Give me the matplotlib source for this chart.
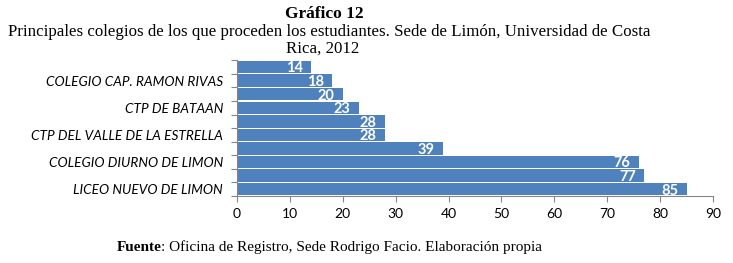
import numpy as np
import matplotlib
matplotlib.use("Agg")
from matplotlib import pyplot as plt

# Datos (de arriba hacia abajo)
colegios = [
    "",
    "COLEGIO CAP. RAMON RIVAS",
    "",
    "CTP DE BATAAN",
    "",
    "CTP DEL VALLE DE LA ESTRELLA",
    "",
    "COLEGIO DIURNO DE LIMON",
    "",
    "LICEO NUEVO DE LIMON",
]
estudiantes = [14, 18, 20, 23, 28, 28, 39, 76, 77, 85]
x_ticks = [0, 10, 20, 30, 40, 50, 60, 70, 80, 90]

azul = "#4F81BD"
gris = "#868686"
fuente_graf = "Lato"
fuente_serif = "Liberation Serif"

fig = plt.figure(figsize=(7.33, 2.63), dpi=100)
ax = fig.add_axes([0.3233, 0.2548, 0.6494, 0.5171])

y = np.arange(len(estudiantes))
ax.barh(y, estudiantes, height=0.92, color=azul, edgecolor="none")
ax.set_ylim(len(estudiantes) - 0.5, -0.5 - 0.02)
ax.set_xlim(0, 90)

# Etiquetas de valores
for yi, v in zip(y, estudiantes):
    ax.annotate(str(v), xy=(v, yi), xytext=(-6, -1), textcoords="offset points",
                ha="right", va="center", color="white", fontweight="bold",
                fontsize=10.5, family=fuente_graf)

# Eje y: etiquetas en el centro, marcas en los bordes de categorías
ax.set_yticks(y)
ax.set_yticklabels(colegios, fontsize=9.8, style="italic", family=fuente_graf)
ax.tick_params(axis="y", which="major", length=0, pad=10)
ax.set_yticks(np.arange(-0.5, len(estudiantes), 1.0), minor=True)
ax.tick_params(axis="y", which="minor", length=4, color=gris, width=0.8)

ax.set_xticks(x_ticks)
ax.set_xticklabels([str(t) for t in x_ticks], fontsize=10, family=fuente_graf)
ax.tick_params(axis="x", length=4, color=gris, width=0.8, pad=5)

for s in ["top", "right"]:
    ax.spines[s].set_visible(False)
for s in ["left", "bottom"]:
    ax.spines[s].set_color(gris)
    ax.spines[s].set_linewidth(0.8)

# Títulos
fig.text(0.443, 0.945, "Gráfico 12", ha="center", va="center",
         fontsize=12.5, fontweight="bold", family=fuente_serif)
fig.text(0.449, 0.878,
         "Principales colegios de los que proceden los estudiantes. Sede de Limón, Universidad de Costa",
         ha="center", va="center", fontsize=12.2, family=fuente_serif)
fig.text(0.44, 0.815, "Rica, 2012", ha="center", va="center",
         fontsize=12.2, family=fuente_serif)

# Fuente
t1 = fig.text(0.16, 0.06, "Fuente", ha="left", va="center",
              fontsize=11, fontweight="bold", family=fuente_serif)
fig.canvas.draw()
bb = t1.get_window_extent()
x_next = (bb.x1 - 1) / fig.bbox.width
fig.text(x_next, 0.06, ": Oficina de Registro, Sede Rodrigo Facio. Elaboración propia",
         ha="left", va="center", fontsize=11, family=fuente_serif)

fig.savefig("out.png", dpi=100)
